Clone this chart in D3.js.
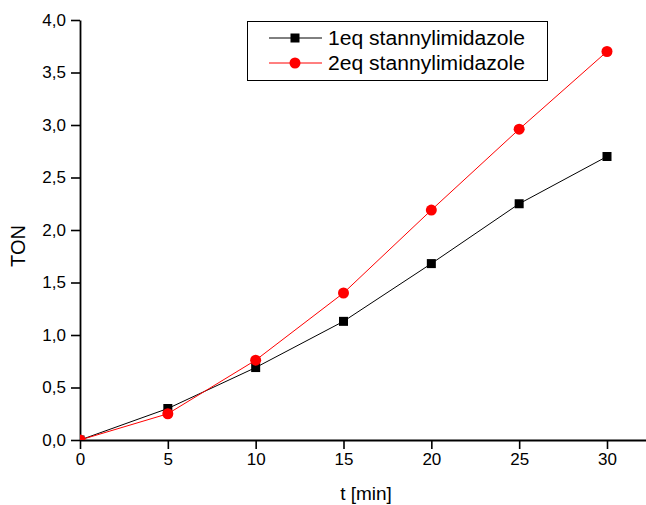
<!DOCTYPE html>
<html>
<head>
<meta charset="utf-8">
<script src="https://cdn.jsdelivr.net/npm/d3@7"></script>
<style>
  body { margin: 0; background: #fff; }
  svg { display: block; font-family: "Liberation Sans", Arial, sans-serif; }
</style>
</head>
<body>
<svg id="chart" width="646" height="505"></svg>
<script>
const times = [0, 5, 10, 15, 20, 25, 30];
const ton1eq = [0, 0.30, 0.69, 1.13, 1.68, 2.25, 2.70];
const ton2eq = [0, 0.25, 0.76, 1.40, 2.19, 2.96, 3.70];
const seriesNames = ['1eq stannylimidazole', '2eq stannylimidazole'];
const xTicks = [0, 5, 10, 15, 20, 25, 30];
const yTicks = [0, 0.5, 1, 1.5, 2, 2.5, 3, 3.5, 4];

const svg = d3.select('#chart');
const margin = { left: 80, right: 0, top: 20, bottom: 65 };
const width = 646, height = 505;

const x = d3.scaleLinear().domain([0, 32.22]).range([margin.left, width - margin.right]);
const y = d3.scaleLinear().domain([0, 4]).range([height - margin.bottom, margin.top]);
const fmt = (d) => d3.format('.1f')(d).replace('.', ',');

svg.append('defs').append('clipPath').attr('id', 'plot')
  .append('rect')
  .attr('x', x(0)).attr('y', 0)
  .attr('width', width - x(0)).attr('height', y(0));

// axes
const xAxis = svg.append('g').attr('transform', `translate(0,${y(0)})`);
xAxis.call(d3.axisBottom(x).tickValues(d3.range(2.5, 32, 5)).tickSize(4).tickFormat(''));
xAxis.call(d3.axisBottom(x).tickValues(xTicks).tickSize(9).tickSizeOuter(0).tickPadding(4).tickFormat(d3.format('d')));

const yAxis = svg.append('g').attr('transform', `translate(${x(0)},0)`);
yAxis.call(d3.axisLeft(y).tickValues(d3.range(0.25, 4, 0.5)).tickSize(4).tickFormat(''));
yAxis.call(d3.axisLeft(y).tickValues(yTicks).tickSize(9).tickSizeOuter(0).tickPadding(5).tickFormat(fmt));

svg.selectAll('.domain').attr('stroke', '#000').attr('stroke-width', 1.8);
svg.selectAll('.tick line').attr('stroke', '#000').attr('stroke-width', 1.6);
svg.selectAll('.tick text').attr('font-size', 17).attr('fill', '#000')
  .attr('font-family', '"Liberation Sans", Arial, sans-serif');

svg.append('text')
  .attr('x', 366).attr('y', 500)
  .attr('text-anchor', 'middle').attr('font-size', 19).text('t [min]');
svg.append('text')
  .attr('transform', `translate(25,246) rotate(-90)`)
  .attr('text-anchor', 'middle').attr('font-size', 20).text('TON');

// series
const series = [
  { name: seriesNames[0], values: ton1eq, color: '#000', shape: 'square' },
  { name: seriesNames[1], values: ton2eq, color: '#ff0000', shape: 'circle' },
];
const line = d3.line().x((d, i) => x(times[i])).y((d) => y(d));
const plot = svg.append('g').attr('clip-path', 'url(#plot)');

function marker(g, s, cx, cy) {
  if (s.shape === 'square') {
    g.append('rect').attr('x', cx - 4.5).attr('y', cy - 4.5).attr('width', 9).attr('height', 9).attr('fill', s.color);
  } else {
    g.append('circle').attr('cx', cx).attr('cy', cy).attr('r', 5.5).attr('fill', s.color);
  }
}

series.forEach((s) => {
  plot.append('path').datum(s.values)
    .attr('d', line).attr('fill', 'none').attr('stroke', s.color).attr('stroke-width', 1);
  s.values.forEach((v, i) => marker(plot, s, x(times[i]), y(v)));
});

// legend
const legend = svg.append('g');
legend.append('rect').attr('x', 247.5).attr('y', 21.5).attr('width', 300).attr('height', 59)
  .attr('fill', '#fff').attr('stroke', '#000').attr('stroke-width', 1);
series.forEach((s, i) => {
  const ly = 38 + i * 25;
  legend.append('line').attr('x1', 269).attr('x2', 322).attr('y1', ly).attr('y2', ly)
    .attr('stroke', s.color).attr('stroke-width', 1);
  marker(legend, s, 295, ly);
  legend.append('text').attr('x', 328).attr('y', ly + 7).attr('font-size', 20)
    .attr('textLength', 197).attr('lengthAdjust', 'spacingAndGlyphs').text(s.name);
});
</script>
</body>
</html>
